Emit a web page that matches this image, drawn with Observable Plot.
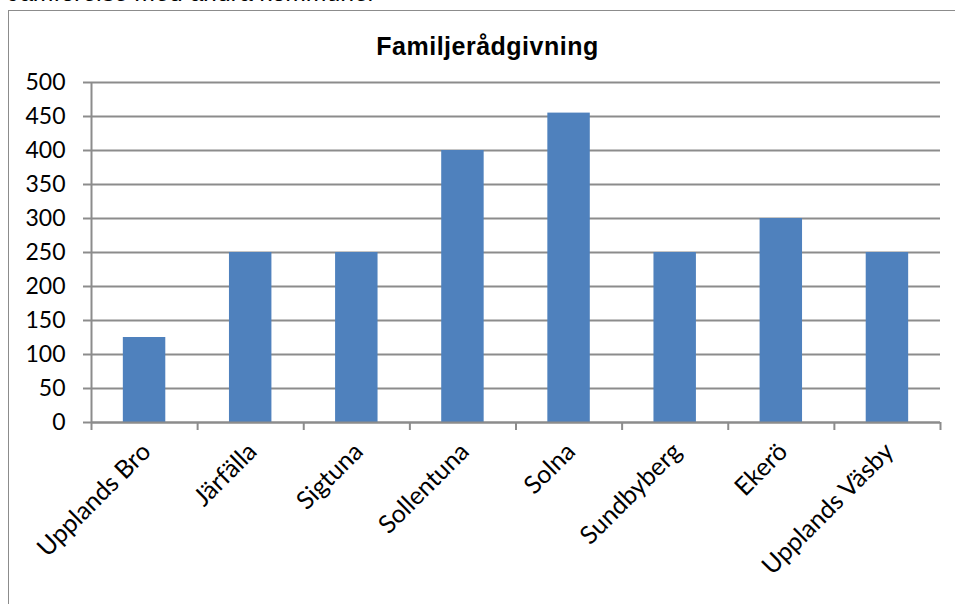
<!DOCTYPE html>
<html>
<head>
<meta charset="utf-8">
<script src="https://cdn.jsdelivr.net/npm/d3@7"></script>
<script src="https://cdn.jsdelivr.net/npm/@observablehq/plot@0.6"></script>
<style>
  html, body { margin: 0; padding: 0; background: #fff; overflow: hidden; }
  #wrap { position: relative; width: 955px; height: 604px; overflow: hidden; }
  #frame { position: absolute; left: 8px; top: 10px; width: 980px; height: 640px; border: 1.5px solid #8c8c8c; box-sizing: border-box; }
  #heading { position: absolute; left: 8px; top: -22px; font-family: "Liberation Sans", Arial, sans-serif; font-style: italic; font-size: 24.7px; line-height: 30px; white-space: nowrap; color: #000; }
  #title { position: absolute; left: 0; width: 975px; top: 31px; text-align: center; font-family: "Liberation Sans", Arial, sans-serif; font-weight: bold; font-size: 25px; letter-spacing: 0.5px; line-height: 30px; color: #000; }
  #chart { position: absolute; left: 0; top: 0; }
</style>
</head>
<body>
<div id="wrap">
  <div id="heading">Jämförelse med andra kommuner</div>
  <div id="frame"></div>
  <div id="title">Familjerådgivning</div>
  <div id="chart"></div>
</div>
<script>
const categories = ["Upplands Bro", "Järfälla", "Sigtuna", "Sollentuna", "Solna", "Sundbyberg", "Ekerö", "Upplands Väsby"];
const values = [125, 250, 250, 400, 455, 250, 300, 250];
const yTicks = [0, 50, 100, 150, 200, 250, 300, 350, 400, 450, 500];

const data = categories.map((c, i) => ({category: c, index: i, value: values[i]}));
const boundaries = d3.range(0, categories.length + 1);

const gray = "#8c8c8c";
const chart = Plot.plot({
  width: 955,
  height: 604,
  marginLeft: 91,
  marginRight: 15,
  marginTop: 82,
  marginBottom: 182,
  style: {fontFamily: "Lato, 'Open Sans', sans-serif", background: "transparent", overflow: "visible"},
  x: {type: "linear", domain: [0, categories.length], axis: null},
  y: {domain: [0, 500], axis: null},
  marks: [
    Plot.gridY(yTicks, {stroke: gray, strokeOpacity: 1, strokeWidth: 2}),
    Plot.rectY(data, {x1: d => d.index + 0.3, x2: d => d.index + 0.7, y: "value", fill: "#4f81bd"}),
    Plot.ruleY([0], {stroke: gray, strokeWidth: 2}),
    Plot.ruleX([0], {stroke: gray, strokeWidth: 2}),
    Plot.axisY({ticks: yTicks, tickSize: 8, tickPadding: 18, stroke: gray, strokeWidth: 2, fill: "#000", fontSize: 23, label: null, tickFormat: d => String(d)}),
    Plot.axisX({ticks: boundaries, tickSize: 8, stroke: gray, strokeWidth: 2, tickFormat: () => "", label: null}),
    Plot.text(data, {x: d => d.index + 0.5, y: () => 0, text: "category", rotate: -45, textAnchor: "end", dx: 2, dy: 25, fontSize: 25, fill: "#000"})
  ]
});
document.getElementById("chart").appendChild(chart);
</script>
</body>
</html>
